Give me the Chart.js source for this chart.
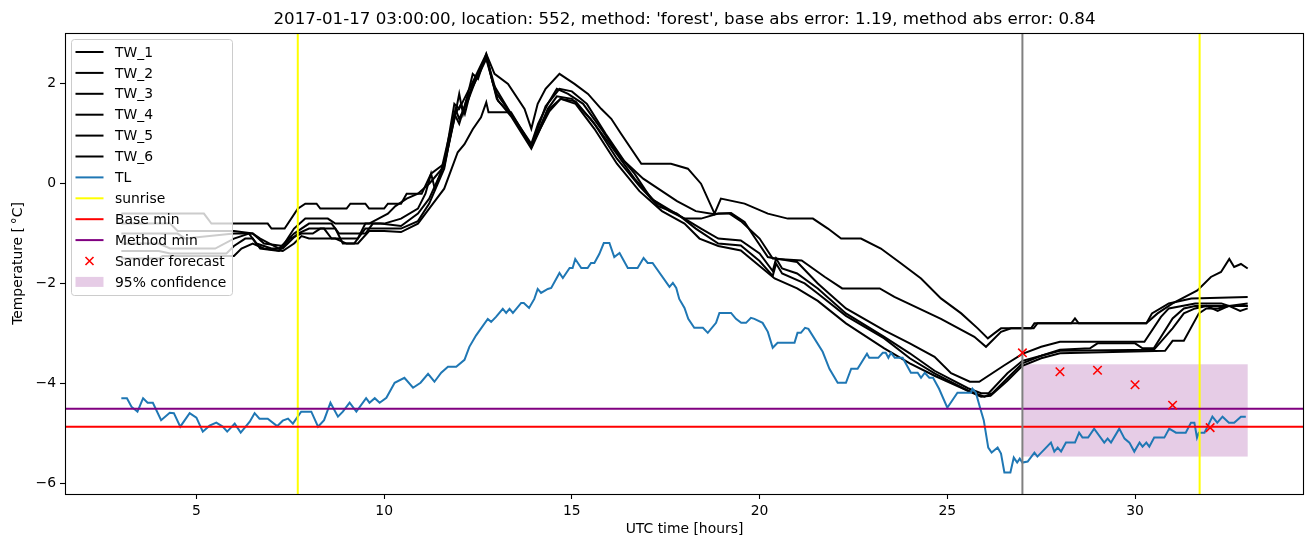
<!DOCTYPE html>
<html>
<head>
<meta charset="utf-8">
<title>TW / TL forecast</title>
<script src="https://cdn.jsdelivr.net/npm/chart.js@4/dist/chart.umd.min.js"></script>
<style>
  html, body { margin: 0; padding: 0; background: #fff; }
  #wrap { width: 1313px; height: 547px; position: relative; }
</style>
</head>
<body>
<div id="wrap"><canvas id="forecastChart"></canvas></div>
<script>
"use strict";

/* global Chart */

// ===========================
// DATA
// ===========================
const TITLE = "2017-01-17 03:00:00, location: 552, method: 'forest', base abs error: 1.19, method abs error: 0.84";
const TW_LABELS = ["TW_1", "TW_2", "TW_3", "TW_4", "TW_5", "TW_6"];

const tw1Hours = [3, 5.2, 5.4, 6.9, 7.0, 7.35, 7.7, 7.9, 8.2, 8.3,
    9.0, 9.1, 9.5, 9.6, 10.0, 10.1, 10.45, 10.6, 11.0, 11.25,
    11.6, 11.87, 12.0, 12.1, 12.23, 12.36, 12.5, 12.72, 12.94, 13.3,
    13.74, 13.92, 14.09, 14.3, 14.67, 15.07, 15.43, 15.78, 16.05, 16.31,
    16.85, 17.02, 17.64, 18.09, 18.44, 18.8, 18.97, 19.6, 20.22, 20.75,
    21.42, 21.82, 22.17, 22.7, 23.23, 23.77, 24.3, 24.83, 25.37, 25.81,
    26.08, 26.25, 26.43, 27.23, 27.32, 30.3, 30.45, 30.9, 31.5, 33];
const tw1Temps = [-0.6, -0.6, -0.8, -0.8, -0.9, -0.9, -0.5, -0.4, -0.4, -0.5,
    -0.5, -0.4, -0.4, -0.5, -0.5, -0.4, -0.4, -0.2, -0.2, 0.2,
    0.4, 1.3, 1.8, 1.4, 1.8, 2.2, 2.1, 2.6, 2.2, 2.0,
    1.5, 1.1, 1.6, 1.9, 2.2, 2.0, 1.8, 1.5, 1.3, 1.0,
    0.4, 0.4, 0.4, 0.3, 0.0, -0.6, -0.3, -0.4, -0.6, -0.7,
    -0.7, -0.9, -1.1, -1.1, -1.3, -1.6, -1.9, -2.3, -2.6, -2.9,
    -3.1, -3.0, -2.9, -2.9, -2.8, -2.8, -2.6, -2.4, -2.3, -2.27];

const tw2Hours = [3, 4.3, 4.5, 6.0, 6.5, 6.8, 7.3, 7.6, 7.9, 8.5,
    8.7, 9.6, 9.85, 10.1, 10.3, 10.6, 10.9, 11.2, 11.6, 11.9,
    12.05, 12.15, 12.35, 12.5, 12.72, 13.0, 13.38, 13.92, 14.3, 14.67,
    15.0, 15.4, 15.9, 16.4, 16.9, 17.3, 17.8, 18.3, 18.76, 19.24,
    19.6, 19.86, 20.22, 20.48, 21.12, 21.74, 22.2, 22.53, 23.2, 23.59,
    24.83, 25.72, 26.03, 26.43, 26.7, 27.3, 27.4, 28.3, 28.4, 28.5,
    30.3, 30.6, 31.0, 31.66, 32.02, 32.29, 32.51, 32.64, 32.82, 33];
const tw2Temps = [-0.8, -0.8, -0.95, -0.95, -1.0, -1.2, -1.25, -0.9, -0.7, -0.7,
    -0.8, -0.8, -0.7, -0.6, -0.45, -0.3, -0.2, 0.0, 0.35, 1.4,
    1.6, 1.4, 2.0, 2.2, 2.55, 1.8, 1.4, 0.75, 1.55, 1.9,
    1.85, 1.6, 1.0, 0.45, 0.1, -0.1, -0.35, -0.55, -0.61, -0.59,
    -0.77, -1.07, -1.47, -1.51, -1.54, -1.87, -2.1, -2.1, -2.1, -2.27,
    -2.71, -3.07, -3.27, -2.97, -2.9, -2.9, -2.8, -2.8, -2.7, -2.8,
    -2.8, -2.6, -2.4, -2.14, -1.87, -1.77, -1.51, -1.67, -1.61, -1.7];

const tw3Hours = [3, 4.5, 4.7, 6.0, 6.5, 6.7, 7.2, 7.6, 8.0, 8.6,
    8.8, 9.5, 9.7, 10.0, 10.45, 10.9, 11.1, 11.25, 11.35, 11.6,
    11.87, 12.0, 12.2, 12.4, 12.72, 12.9, 13.38, 13.92, 14.1, 14.36,
    14.6, 14.9, 15.3, 15.78, 16.22, 16.67, 17.11, 17.55, 18.0, 18.44,
    18.9, 19.2, 19.5, 20.0, 20.35, 20.44, 21.0, 21.55, 22.3, 23.32,
    24.0, 24.66, 25.1, 25.6, 25.85, 26.52, 27.0, 27.5, 28.0, 30.25,
    30.69, 30.9, 31.6, 32.3, 32.5, 33];
const tw3Temps = [-1.0, -1.0, -1.1, -1.0, -1.0, -1.1, -1.3, -1.0, -0.8, -0.8,
    -1.0, -1.0, -0.8, -0.8, -0.7, -0.5, -0.2, 0.2, -0.1, 0.4,
    1.6, 1.5, 1.8, 2.1, 2.6, 2.0, 1.4, 0.8, 1.2, 1.6,
    1.9, 1.8, 1.6, 1.1, 0.6, 0.2, -0.3, -0.5, -0.7, -0.7,
    -0.6, -0.6, -0.75, -1.1, -1.5, -1.5, -1.57, -2.0, -2.5, -2.94,
    -3.2, -3.47, -3.8, -3.97, -3.97, -3.64, -3.41, -3.27, -3.17, -3.17,
    -2.67, -2.5, -2.4, -2.4, -2.45, -2.4];

const tw4Hours = [3, 4.0, 4.3, 5.5, 6.0, 6.4, 6.6, 7.0, 7.3, 7.7,
    8.0, 8.4, 8.6, 9.3, 9.5, 9.9, 10.45, 10.9, 11.2, 11.5,
    11.87, 12.0, 12.2, 12.4, 12.72, 13.03, 13.38, 13.92, 14.36, 14.6,
    15.0, 15.5, 16.0, 16.67, 17.2, 17.6, 18.0, 18.44, 18.9, 19.5,
    20.0, 20.35, 20.44, 20.6, 21.0, 21.55, 22.3, 23.32, 24.0, 24.66,
    25.55, 25.9, 26.1, 26.6, 27.0, 27.5, 28.0, 28.8, 29.0, 30.0,
    30.2, 30.5, 31.0, 31.3, 31.6, 33];
const tw4Temps = [-1.2, -1.2, -1.3, -1.3, -1.1, -1.0, -1.2, -1.3, -1.3, -1.0,
    -0.9, -0.9, -1.1, -1.1, -0.8, -0.8, -0.85, -0.6, -0.3, 0.2,
    1.4, 1.2, 1.7, 2.0, 2.5, 1.66, 1.39, 0.73, 1.5, 1.75,
    1.7, 1.3, 0.8, 0.1, -0.35, -0.55, -0.7, -0.9, -1.1, -1.14,
    -1.4, -1.75, -1.5, -1.7, -1.8, -2.1, -2.6, -3.07, -3.4, -3.75,
    -4.1, -4.2, -4.2, -3.8, -3.55, -3.45, -3.33, -3.3, -3.2, -3.2,
    -3.3, -3.3, -2.7, -2.5, -2.45, -2.45];

const tw5Hours = [3, 4.0, 4.3, 5.8, 6.0, 6.3, 6.5, 6.7, 7.2, 7.5,
    7.8, 8.1, 8.3, 8.7, 8.9, 9.2, 9.5, 10.0, 10.45, 10.9,
    11.2, 11.6, 11.9, 12.0, 12.25, 12.5, 12.72, 13.0, 13.38, 13.92,
    14.4, 14.7, 15.1, 15.6, 16.2, 16.8, 17.3, 17.8, 18.3, 18.9,
    19.5, 20.0, 20.35, 20.44, 20.6, 21.2, 21.55, 22.3, 23.32, 24.0,
    24.66, 25.55, 25.99, 26.2, 26.6, 27.0, 27.5, 28.0, 30.5, 31.0,
    31.3, 31.6, 31.9, 32.2, 32.5, 32.8, 33];
const tw5Temps = [-1.35, -1.35, -1.4, -1.4, -1.25, -1.1, -1.1, -1.3, -1.35, -1.1,
    -1.0, -1.0, -0.9, -0.9, -1.2, -1.2, -0.9, -0.9, -0.9, -0.75,
    -0.4, 0.3, 1.5, 1.3, 1.7, 2.2, 2.55, 1.7, 1.35, 0.7,
    1.5, 1.7, 1.65, 1.2, 0.5, -0.05, -0.45, -0.6, -0.9, -1.2,
    -1.24, -1.55, -1.85, -1.6, -1.8, -2.0, -2.2, -2.65, -3.1, -3.5,
    -3.8, -4.15, -4.27, -4.2, -3.9, -3.6, -3.45, -3.35, -3.33, -2.9,
    -2.6, -2.5, -2.45, -2.55, -2.45, -2.55, -2.5];

const tw6Hours = [3, 4.0, 4.1, 5.5, 6.0, 6.2, 6.5, 6.8, 7.3, 7.6,
    7.8, 8.0, 8.7, 9.0, 9.3, 9.6, 10.0, 10.45, 10.9, 11.3,
    11.6, 11.96, 12.14, 12.36, 12.58, 12.72, 12.78, 13.38, 13.92, 14.4,
    14.7, 15.1, 15.6, 16.2, 16.8, 17.4, 18.0, 18.4, 18.9, 19.5,
    20.0, 20.4, 21.0, 21.55, 22.3, 23.32, 24.0, 24.66, 25.55, 25.9,
    26.15, 26.6, 27.0, 27.5, 28.0, 30.8, 31.0, 31.3, 31.7, 31.9,
    32.2, 32.5, 33];
const tw6Temps = [-1.5, -1.5, -1.45, -1.45, -1.45, -1.3, -1.2, -1.3, -1.35, -1.2,
    -1.05, -1.1, -1.1, -1.2, -1.2, -0.95, -0.95, -0.97, -0.8, -0.4,
    -0.1, 0.63, 0.79, 1.09, 1.33, 1.63, 1.43, 1.43, 0.76, 1.45,
    1.7, 1.6, 1.1, 0.4, -0.15, -0.55, -0.8, -1.1, -1.25, -1.34,
    -1.65, -1.9, -2.1, -2.35, -2.8, -3.3, -3.6, -3.85, -4.15, -4.27,
    -4.25, -3.95, -3.65, -3.5, -3.4, -3.35, -3.15, -3.15, -2.6, -2.5,
    -2.5, -2.45, -2.45];

const tlHours = [3.0, 3.15, 3.27, 3.43, 3.58, 3.7, 3.84, 4.06, 4.29, 4.4,
    4.57, 4.82, 5.0, 5.17, 5.35, 5.53, 5.7, 5.82, 6.02, 6.18,
    6.42, 6.55, 6.68, 6.9, 7.15, 7.3, 7.44, 7.57, 7.79, 8.06,
    8.24, 8.4, 8.57, 8.77, 8.9, 9.08, 9.26, 9.52, 9.61, 9.75,
    9.88, 10.06, 10.28, 10.54, 10.77, 10.97, 11.17, 11.34, 11.52, 11.7,
    11.92, 12.14, 12.27, 12.45, 12.76, 12.85, 12.98, 13.16, 13.25, 13.34,
    13.43, 13.52, 13.65, 13.72, 13.86, 14.0, 14.09, 14.18, 14.36, 14.45,
    14.67, 14.76, 14.94, 15.02, 15.09, 15.25, 15.42, 15.51, 15.6, 15.73,
    15.85, 16.0, 16.13, 16.27, 16.49, 16.75, 16.91, 17.02, 17.15, 17.6,
    17.69, 17.78, 17.86, 18.0, 18.1, 18.26, 18.49, 18.62, 18.84, 18.93,
    19.24, 19.37, 19.51, 19.64, 19.77, 19.86, 20.08, 20.22, 20.35, 20.48,
    20.93, 21.01, 21.1, 21.21, 21.3, 21.68, 21.86, 22.08, 22.3, 22.44,
    22.61, 22.86, 22.92, 23.16, 23.28, 23.36, 23.43, 23.5, 23.6, 23.81,
    24.03, 24.21, 24.3, 24.4, 24.52, 24.62, 24.78, 25.0, 25.27, 25.63,
    25.67, 25.76, 25.88, 25.97, 26.09, 26.18, 26.34, 26.43, 26.52, 26.68,
    26.77, 26.86, 26.93, 27.0, 27.14, 27.32, 27.4, 27.76, 27.85, 27.94,
    28.03, 28.16, 28.4, 28.51, 28.6, 28.75, 28.91, 29.18, 29.27, 29.36,
    29.58, 29.72, 29.85, 29.98, 30.12, 30.2, 30.3, 30.38, 30.51, 30.78,
    30.91, 31.09, 31.35, 31.49, 31.58, 31.65, 31.7, 31.85, 32.06, 32.19,
    32.33, 32.5, 32.64, 32.82, 32.95];
const tlTemps = [-4.3, -4.3, -4.47, -4.57, -4.3, -4.39, -4.39, -4.74, -4.59, -4.6,
    -4.87, -4.6, -4.69, -4.97, -4.85, -4.79, -4.87, -4.97, -4.81, -4.99,
    -4.77, -4.6, -4.71, -4.71, -4.86, -4.75, -4.71, -4.81, -4.57, -4.57,
    -4.87, -4.74, -4.39, -4.67, -4.57, -4.39, -4.57, -4.3, -4.39, -4.3,
    -4.39, -4.29, -3.99, -3.89, -4.09, -3.99, -3.81, -3.97, -3.79, -3.67,
    -3.67, -3.53, -3.27, -3.04, -2.71, -2.77, -2.67, -2.51, -2.59, -2.51,
    -2.59, -2.51, -2.39, -2.39, -2.49, -2.31, -2.11, -2.19, -2.11, -2.09,
    -1.79, -1.89, -1.69, -1.69, -1.51, -1.69, -1.69, -1.59, -1.59, -1.41,
    -1.19, -1.19, -1.47, -1.39, -1.69, -1.69, -1.49, -1.59, -1.59, -2.07,
    -1.99, -2.09, -2.31, -2.49, -2.71, -2.89, -2.89, -2.99, -2.79, -2.59,
    -2.59, -2.71, -2.79, -2.79, -2.69, -2.71, -2.79, -2.97, -3.29, -3.19,
    -3.19, -2.99, -2.99, -2.89, -2.91, -3.37, -3.71, -3.99, -3.99, -3.71,
    -3.71, -3.41, -3.49, -3.49, -3.39, -3.39, -3.49, -3.39, -3.49, -3.49,
    -3.79, -3.79, -3.89, -3.79, -3.89, -3.89, -4.11, -4.49, -4.19, -4.19,
    -4.11, -4.19, -4.51, -4.74, -5.29, -5.39, -5.29, -5.41, -5.79, -5.79,
    -5.49, -5.59, -5.51, -5.59, -5.57, -5.39, -5.47, -5.19, -5.37, -5.29,
    -5.37, -5.19, -5.19, -4.99, -5.09, -5.09, -4.91, -5.19, -5.11, -5.19,
    -4.91, -5.11, -5.19, -5.37, -5.19, -5.27, -5.19, -5.27, -5.09, -5.09,
    -4.91, -4.99, -4.99, -4.79, -4.79, -5.09, -4.99, -4.99, -4.67, -4.79,
    -4.67, -4.79, -4.79, -4.67, -4.67];

const forecastHours = [27, 28, 29, 30, 31, 32];
const forecastTemps = [-3.39, -3.77, -3.74, -4.03, -4.44, -4.89];

const sunriseHours = [7.70, 31.72];
const forecastStartHour = 27;
const baseMinTemp = -4.87;
const methodMinTemp = -4.51;
const confidenceHours = [27, 33];      // [start, end]
const confidenceTemps = [-5.47, -3.62]; // [low, high]

const X_TICKS = [5, 10, 15, 20, 25, 30];
const Y_TICKS = [-6, -4, -2, 0, 2];
const X_RANGE = [1.5, 34.5];
const Y_RANGE = [-6.22, 3.02];

// ✅ Styles
const FONT = "DejaVu Sans";
const TL_COLOR = "#1f77b4";
const BAND_COLOR = "rgba(128, 0, 128, 0.2)";
const LINE_W = 2;

Chart.defaults.font.family = FONT;
Chart.defaults.font.size = 13.9;
Chart.defaults.color = "#000";

const toPoints = (hours, temps) => hours.map((h, i) => ({ x: h, y: temps[i] }));

const twSeries = [
    [tw1Hours, tw1Temps], [tw2Hours, tw2Temps], [tw3Hours, tw3Temps],
    [tw4Hours, tw4Temps], [tw5Hours, tw5Temps], [tw6Hours, tw6Temps]
];

const datasets = twSeries.map(([hours, temps], i) => ({
    label: TW_LABELS[i],
    data: toPoints(hours, temps),
    borderColor: "#000",
    borderWidth: LINE_W,
    pointRadius: 0,
    tension: 0,
    order: 20 - i // later series on top, like matplotlib
}));

datasets.push({
    label: "TL",
    data: toPoints(tlHours, tlTemps),
    borderColor: TL_COLOR,
    borderWidth: LINE_W,
    pointRadius: 0,
    tension: 0,
    order: 10
});

datasets.push({
    label: "Sander forecast",
    data: toPoints(forecastHours, forecastTemps),
    showLine: false,
    pointStyle: "crossRot",
    pointRadius: 6,
    pointBorderWidth: 1.6,
    borderColor: "red",
    backgroundColor: "red",
    order: 0
});

// legend rows, same order as the reference
const legendEntries = [
    ...TW_LABELS.map(label => ({ label, kind: "line", color: "#000" })),
    { label: "TL", kind: "line", color: TL_COLOR },
    { label: "sunrise", kind: "line", color: "yellow" },
    { label: "Base min", kind: "line", color: "red" },
    { label: "Method min", kind: "line", color: "purple" },
    { label: "Sander forecast", kind: "marker", color: "red" },
    { label: "95% confidence", kind: "patch", color: BAND_COLOR }
];

// ===========================
// 🚀 PLUGIN: band, reference lines, frame, title, legend
// ===========================
const decorations = {
    id: "decorations",

    beforeDatasetsDraw(chart) {
        const { ctx, chartArea, scales: { x, y } } = chart;
        const x0 = x.getPixelForValue(confidenceHours[0]);
        const x1 = x.getPixelForValue(confidenceHours[1]);
        const yTop = y.getPixelForValue(confidenceTemps[1]);
        const yBot = y.getPixelForValue(confidenceTemps[0]);
        ctx.save();
        ctx.beginPath();
        ctx.rect(chartArea.left, chartArea.top, chartArea.width, chartArea.height);
        ctx.clip();
        ctx.fillStyle = BAND_COLOR;
        ctx.fillRect(x0, yTop, x1 - x0, yBot - yTop);
        ctx.restore();
    },

    afterDatasetDraw(chart, args) {
        if (chart.data.datasets[args.index].label !== "TL") return;
        const { ctx, chartArea, scales: { x, y } } = chart;

        const vLine = (hour, color) => {
            const px = x.getPixelForValue(hour);
            ctx.strokeStyle = color;
            ctx.beginPath();
            ctx.moveTo(px, chartArea.top);
            ctx.lineTo(px, chartArea.bottom);
            ctx.stroke();
        };
        const hLine = (temp, color) => {
            const py = y.getPixelForValue(temp);
            ctx.strokeStyle = color;
            ctx.beginPath();
            ctx.moveTo(chartArea.left, py);
            ctx.lineTo(chartArea.right, py);
            ctx.stroke();
        };

        ctx.save();
        ctx.lineWidth = LINE_W;
        sunriseHours.forEach(h => vLine(h, "yellow"));
        hLine(baseMinTemp, "red");
        hLine(methodMinTemp, "purple");
        vLine(forecastStartHour, "grey");
        ctx.restore();
    },

    afterDraw(chart) {
        const { ctx, chartArea } = chart;
        ctx.save();

        // ✅ Axes frame (all four spines)
        ctx.strokeStyle = "#000";
        ctx.lineWidth = 1.1;
        ctx.strokeRect(Math.round(chartArea.left) + 0.5, Math.round(chartArea.top) + 0.5,
            Math.round(chartArea.width) - 1, Math.round(chartArea.height));

        // ✅ Title
        ctx.fillStyle = "#000";
        ctx.font = `16.7px "${FONT}"`;
        ctx.textAlign = "center";
        ctx.textBaseline = "alphabetic";
        ctx.fillText(TITLE, (chartArea.left + chartArea.right) / 2, chartArea.top - 9);

        // ✅ Legend box (upper left)
        const bx = chartArea.left + 6.5, by = chartArea.top + 6.5, bw = 161, bh = 256, r = 3;
        ctx.beginPath();
        ctx.moveTo(bx + r, by);
        ctx.lineTo(bx + bw - r, by);
        ctx.arcTo(bx + bw, by, bx + bw, by + r, r);
        ctx.lineTo(bx + bw, by + bh - r);
        ctx.arcTo(bx + bw, by + bh, bx + bw - r, by + bh, r);
        ctx.lineTo(bx + r, by + bh);
        ctx.arcTo(bx, by + bh, bx, by + bh - r, r);
        ctx.lineTo(bx, by + r);
        ctx.arcTo(bx, by, bx + r, by, r);
        ctx.closePath();
        ctx.fillStyle = "rgba(255, 255, 255, 0.8)";
        ctx.fill();
        ctx.strokeStyle = "#cccccc";
        ctx.lineWidth = 1;
        ctx.stroke();

        ctx.font = `13.9px "${FONT}"`;
        ctx.textAlign = "left";
        ctx.textBaseline = "middle";
        legendEntries.forEach((entry, i) => {
            const rowY = by + 12.5 + i * 20.9;
            const sx0 = bx + 4, sx1 = bx + 32;
            if (entry.kind === "line") {
                ctx.strokeStyle = entry.color;
                ctx.lineWidth = LINE_W;
                ctx.beginPath();
                ctx.moveTo(sx0, rowY);
                ctx.lineTo(sx1, rowY);
                ctx.stroke();
            } else if (entry.kind === "marker") {
                const cx = (sx0 + sx1) / 2, s = 4;
                ctx.strokeStyle = entry.color;
                ctx.lineWidth = 1.6;
                ctx.beginPath();
                ctx.moveTo(cx - s, rowY - s);
                ctx.lineTo(cx + s, rowY + s);
                ctx.moveTo(cx - s, rowY + s);
                ctx.lineTo(cx + s, rowY - s);
                ctx.stroke();
            } else {
                ctx.fillStyle = entry.color;
                ctx.fillRect(sx0, rowY - 5, sx1 - sx0, 10);
            }
            ctx.fillStyle = "#000";
            ctx.fillText(entry.label, bx + 43.5, rowY + 1);
        });

        ctx.restore();
    }
};

const minusSign = v => String(v).replace("-", "\u2212");

// ===========================
// 🚀 CHART
// ===========================
const ctx = document.getElementById("forecastChart").getContext("2d");

new Chart(ctx, {
    type: "line",
    data: { datasets },
    options: {
        responsive: true,
        maintainAspectRatio: false,
        animation: false,
        devicePixelRatio: 1,
        parsing: true,
        layout: { padding: { top: 33, right: 9, left: 0, bottom: 0 } },
        plugins: {
            legend: { display: false },
            title: { display: false },
            tooltip: { enabled: false }
        },
        scales: {
            x: {
                type: "linear",
                min: X_RANGE[0],
                max: X_RANGE[1],
                afterBuildTicks: axis => { axis.ticks = X_TICKS.map(value => ({ value })); },
                afterFit: axis => { axis.height = 53; },
                grid: { drawOnChartArea: false, drawTicks: true, tickLength: 5, tickColor: "#000", tickWidth: 1.1 },
                border: { display: false },
                ticks: { color: "#000", padding: 4, maxRotation: 0, autoSkip: false, callback: minusSign },
                title: { display: true, text: "UTC time [hours]", color: "#000", padding: { top: 0, bottom: 9 } }
            },
            y: {
                type: "linear",
                min: Y_RANGE[0],
                max: Y_RANGE[1],
                afterBuildTicks: axis => { axis.ticks = Y_TICKS.map(value => ({ value })); },
                afterFit: axis => { axis.width = 65; },
                grid: { drawOnChartArea: false, drawTicks: true, tickLength: 5, tickColor: "#000", tickWidth: 1.1 },
                border: { display: false },
                ticks: { color: "#000", padding: 4, autoSkip: false, callback: minusSign },
                title: { display: true, text: "Temperature [\u2009°C]", color: "#000", padding: { top: 10, bottom: 0 } }
            }
        }
    },
    plugins: [decorations]
});
</script>
</body>
</html>
